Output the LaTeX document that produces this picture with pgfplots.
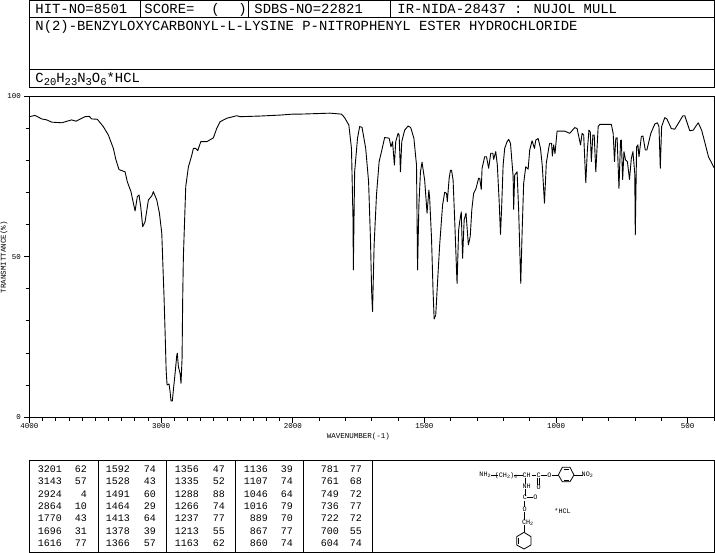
\documentclass[border=0pt]{standalone}
\usepackage{fontspec}
\setmainfont{Liberation Mono}
\setmonofont{Liberation Mono}
\usepackage{pgfplots}
\pgfplotsset{compat=1.18}

% one unit = one pixel of the reference, y written negative
\newcommand{\tabcol}[3]{%
  \foreach \w/\t [count=\i] in {#3} {
    \pgfmathsetmacro{\yy}{-469-12.4*(\i-1)}
    \node[anchor=east,font=\fontsize{10}{10}\selectfont] at (#1,\yy) {\w};
    \node[anchor=east,font=\fontsize{10}{10}\selectfont] at (#2,\yy) {\t};
  }}
\newcommand{\lo}[1]{\raisebox{-2.5pt}{\fontsize{10.5}{10.5}\selectfont #1}}
\newcommand{\loc}[1]{\raisebox{-1.2pt}{\fontsize{5}{5}\selectfont #1}}

\begin{document}
\begin{tikzpicture}[x=1pt,y=1pt,inner sep=0pt,line width=0.9pt]
\useasboundingbox (0,0) rectangle (715,-553);

% header boxes
\draw (29.5,-0.7) rectangle (714,-17);
\draw (29.5,-17) rectangle (714,-69.5);
\draw (29.5,-69.5) rectangle (714,-87);
\draw (140.5,-0.7) -- (140.5,-17);
\draw (248.5,-0.7) -- (248.5,-17);
\draw (390.5,-0.7) -- (390.5,-17);
\tikzset{head/.style={anchor=base west,font=\fontsize{13.9}{14}\selectfont}}
\node[head] at (35,-14) {HIT-NO=8501};
\node[head] at (144,-14) {SCORE=};
\node[head] at (211,-14) {(};
\node[head] at (238,-14) {)};
\node[head] at (254,-14) {SDBS-NO=22821};
\node[head] at (397,-14) {IR-NIDA-28437 : NUJOL MULL};
\node[head] at (35,-31) {N(2)-BENZYLOXYCARBONYL-L-LYSINE P-NITROPHENYL ESTER HYDROCHLORIDE};
\node[anchor=base west,font=\fontsize{13.9}{14}\selectfont] at (35,-83) {C\lo{20}H\lo{23}N\lo{3}O\lo{6}*HCL};

\begin{axis}[
  at={(29.5pt,-417pt)}, anchor=south west,
  scale only axis, width=684.5pt, height=320.5pt,
  x coord trafo/.code={\pgfmathparse{#1>=2000?(4000-#1)/2:3000-#1}},
  xmin=4000, xmax=400, ymin=0, ymax=100,
  xtick={4000,3000,2000,1500,1000,500},
  xticklabels={4000,3000,2000,1500,1000,500},
  minor xtick={400,600,700,800,900,1100,1200,1300,1400,1600,1700,1800,1900,2100,2200,2300,2400,2500,2600,2700,2800,2900,3100,3200,3300,3400,3500,3600,3700,3800,3900},
  ytick={0,50,100},
  yticklabels={0,50,100},
  minor ytick={10,20,30,40,60,70,80,90},
  tick align=outside, xtick pos=bottom, ytick pos=left,
  major tick length=5.5pt, minor tick length=3.5pt,
  every tick/.style={black,line width=0.8pt},
  axis line style={line width=0.9pt},
  tick label style={font=\fontsize{7.5}{8}\selectfont},
  xticklabel style={yshift=-0.5pt},
  yticklabel style={xshift=-3pt},
  clip=true,
]
\addplot[black,line width=0.9pt,line join=round] coordinates {
(4000,93.7)(3958,94.1)(3907,93)(3869,92.7)(3831,92)(3755,91.8)(3680,92.7)(3647,92.3)
(3578,93.7)(3546,93.8)(3527,93)(3485,92.9)(3439,90.6)(3401,88)(3363,83.8)(3343,80.2)
(3320,77.2)(3274,76.5)(3257,73.4)(3229,70.3)(3216,67.7)(3198,64.3)(3181,68.7)(3168,69.3)
(3155,65.6)(3140,59.4)(3122,60.9)(3097,67.7)(3071,69)(3059,70.3)(3033,67.7)(3013,63.6)
(2995,57.3)(2988,49)(2978,37.5)(2970,26.6)(2962,14.7)(2955,10)(2940,10.3)(2932,7.9)
(2925,5)(2915,5)(2907,8.4)(2894,13.6)(2881,19.3)(2877,19.9)(2869,15.7)(2856,13.6)
(2849,10.5)(2841,18.3)(2836,37.5)(2831,50)(2813,71.9)(2793,78)(2767,81.7)(2755,83.8)
(2737,83.8)(2722,83.1)(2699,85.9)(2653,85.9)(2603,87.1)(2578,90)(2553,92.1)(2502,93.2)
(2426,94)(2400,93.7)(2250,93.9)(2097,94.2)(2000,94.5)(1973,94.5)(1859,94.8)(1815,94.5)
(1803,93.4)(1787,91.1)(1777,83.8)(1771,60.9)(1770,45.9)(1765,76.5)(1754,87)(1746,90.6)
(1737,90.4)(1723,83.8)(1712,73.4)(1705,55.8)(1700,38)(1697,32.9)(1691,53.7)(1682,69.3)
(1672,79.7)(1663,82.8)(1651,87.2)(1634,87)(1627,84.3)(1621,85.9)(1614,78.6)(1609,85.9)
(1600,88.5)(1596,88)(1591,76.5)(1586,85.9)(1575,89.5)(1562,90.8)(1552,90.3)(1540,87)
(1530,78.6)(1526,45.9)(1521,66)(1515,76.5)(1509,79.5)(1499,73.9)(1490,63.6)(1483,70.8)
(1480,68.2)(1473,55.8)(1467,39)(1463,30.6)(1457,31.8)(1450,42.2)(1442,53.7)(1431,66.1)
(1423,70.1)(1416,69.8)(1413,67.2)(1406,74.5)(1401,77)(1397,77)(1391,73.9)(1385,61.5)
(1378,45.9)(1376,41.7)(1370,58.3)(1366,60.9)(1360,64)(1355,49.5)(1349,61.5)(1342,63.6)
(1333,53.7)(1326,56.3)(1320,64.6)(1313,69.8)(1304,71.3)(1294,74.5)(1290,74.5)(1284,71)
(1281,77.6)(1271,81.2)(1264,81.2)(1256,77.6)(1248,82.3)(1240,82.3)(1237,80.4)(1229,82.8)
(1223,78.6)(1216,67.2)(1211,57)(1207,64.6)(1201,78.6)(1195,83.8)(1186,85.9)(1180,86.6)
(1173,85.4)(1163,75)(1161,64.8)(1157,75.5)(1148,76.5)(1142,64.6)(1137,50)(1134,41.7)
(1129,57.3)(1123,72.9)(1115,78.1)(1106,77.3)(1100,83.3)(1091,86.2)(1082,83.8)(1077,86.4)
(1068,86.9)(1059,83.8)(1052,78.1)(1044,66.7)(1037,79.2)(1027,84.3)(1024,85.4)(1017,85.4)
(1014,81.4)(1009,84.9)(1004,82.2)(996,89.2)(967,89.2)(948,88.5)(929,90.3)(920,90)
(907,84.9)(901,88.5)(895,88)(887,73.1)(881,83.3)(875,89.5)(870,89)(866,79.7)(860,88)
(855,88)(849,76.5)(840,90.6)(834,91.3)(790,91.3)(783,88.5)(778,79.7)(773,87)(768,87.1)
(761,71.3)(755,86.2)(752,86.4)(747,74.1)(742,82.8)(736,80.2)(729,79.7)(721,74.1)(714,80.7)
(708,82.8)(701,76)(699,56.8)(694,84.3)(689,84.9)(685,81.2)(676,87.5)(670,87.7)(661,83.3)
(655,83.3)(640,88.5)(625,91.4)(615,91.8)(609,90.6)(604,77.6)(599,90.6)(587,93.4)(579,93)
(562,90)(549,89.8)(518,94)(511,94)(492,89.3)(479,89.5)(460,91.8)(447,89.5)(434,85.4)
(421,81.2)(400,77.8)
};
\end{axis}

% axis titles
\node[font=\fontsize{7.5}{8}\selectfont] at (358.5,-437) {WAVENUMBER(-1)};
\node[font=\fontsize{7.5}{8}\selectfont,rotate=90] at (4,-257) {TRANSMITTANCE(\%)};

% peak table
\draw (29.5,-460) rectangle (372,-552);
\foreach \vx in {98.5,166,235.5,303.5} \draw (\vx,-460) -- (\vx,-552);
\tabcol{62}{87}{3201/62,3143/57,2924/4,2864/10,1770/43,1696/31,1616/77}
\tabcol{130}{156}{1592/74,1528/43,1491/60,1464/29,1413/64,1378/39,1366/57}
\tabcol{199}{225}{1356/47,1335/52,1288/88,1266/74,1237/77,1213/55,1163/62}
\tabcol{268}{293}{1136/39,1107/74,1046/64,1016/79,889/70,867/77,860/74}
\tabcol{339}{362}{781/77,761/68,749/72,736/77,722/72,700/55,604/74}

% structure box
\draw (372,-460) rectangle (714,-552);
\begin{scope}[shift={(450,-455)},x=0.3333pt,y=-0.3333pt,line width=0.8pt]
\tikzset{chem/.style={font=\fontsize{6.8}{7}\selectfont}}
\node[chem] at (105,60) {NH\loc{2}};
\draw (123,60) -- (145,60);
\node[chem] at (168,62) {(CH\loc{2})\loc{4}};
\draw (192,60) -- (218,60);
\node[chem] at (230,60) {CH};
\draw (245,60) -- (258,60);
\node[chem] at (266,60) {C};
\draw (273,60) -- (291,60);
\node[chem] at (298,60) {O};
\draw (305,60) -- (325,60);
\draw (325,60) -- (337,37) -- (360,37) -- (372,60) -- (360,80) -- (337,80) -- cycle;
\draw (342,42) -- (356,42) (342,75) -- (356,75);
\draw (372,60) -- (398,60);
\node[chem] at (412,60) {NO\loc{2}};
\draw (263,68) -- (263,90) (269,68) -- (269,90);
\node[chem] at (266,97) {O};
\draw (225,68) -- (225,88);
\node[chem] at (230,95) {NH};
\draw (225,102) -- (225,122);
\node[chem] at (225,128) {C};
\draw (232,128) -- (250,128);
\node[chem] at (256,128) {O};
\draw (222,138) -- (222,157);
\node[chem] at (224,163) {O};
\draw (222,170) -- (222,195);
\node[chem] at (233,203) {CH\loc{2}};
\draw (222,210) -- (222,232);
\draw (222,232) -- (243,245) -- (243,270) -- (222,282) -- (200,270) -- (200,245) -- cycle;
\draw (205,248) -- (205,267);
\node[chem] at (338,168) {*HCL};
\end{scope}
\end{tikzpicture}
\end{document}
